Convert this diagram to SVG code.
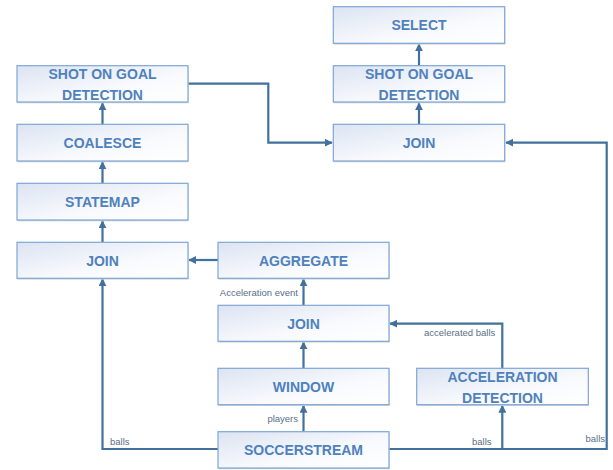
<svg xmlns="http://www.w3.org/2000/svg" width="613" height="470" viewBox="0 0 613 470">
<style>
.box{fill:url(#g);stroke:#7ea6d5;stroke-width:1.2}
.sh{fill:#cfd3d8}
.t{font-family:"Liberation Sans",Arial,sans-serif;font-weight:bold;font-size:14px;fill:#4f81bd;text-anchor:middle}
.l{font-family:"Liberation Sans",Arial,sans-serif;font-size:9.5px;fill:#5a6e87}
.c{fill:none;stroke:#41719c;stroke-width:2.2;marker-end:url(#a)}
.n{fill:none;stroke:#41719c;stroke-width:2.2}
</style>
<defs>
<linearGradient id="g" x1="0" y1="0" x2="1" y2="1">
<stop offset="0" stop-color="#dce4f2"/>
<stop offset="0.6" stop-color="#f8fafd"/>
<stop offset="1" stop-color="#ffffff"/>
</linearGradient>
<marker id="a" viewBox="0 0 10 10" refX="9" refY="5" markerWidth="8" markerHeight="8" markerUnits="userSpaceOnUse" orient="auto">
<path d="M0,0 L10,5 L0,10 z" fill="#41719c"/>
</marker>
</defs>
<rect width="613" height="470" fill="#ffffff"/>

<g id="connectors">
<polyline class="c" points="188,83.7 268.3,83.7 268.3,142.7 332,142.7"/>
<polyline class="c" points="389,449 606.7,449 606.7,142.7 506,142.7"/>
<line class="c" x1="502.3" y1="449" x2="502.3" y2="405.5"/>
<polyline class="c" points="502.3,368.3 502.3,323.7 390,323.7"/>
<polyline class="c" points="218,449 102.5,449 102.5,279"/>
<line class="c" x1="218" y1="260" x2="189" y2="260"/>
<line class="c" x1="102.5" y1="242.3" x2="102.5" y2="221"/>
<line class="c" x1="102.5" y1="183.3" x2="102.5" y2="162"/>
<line class="c" x1="102.5" y1="124.3" x2="102.5" y2="103"/>
<line class="c" x1="419" y1="124.3" x2="419" y2="103"/>
<line class="c" x1="419" y1="65.7" x2="419" y2="44"/>
<line class="c" x1="303.5" y1="431.7" x2="303.5" y2="405.5"/>
<line class="c" x1="303.5" y1="368.3" x2="303.5" y2="342"/>
<line class="c" x1="303.5" y1="305.3" x2="303.5" y2="279"/>
<text class="l" x="110" y="445">balls</text>
<text class="l" x="472" y="445">balls</text>
<text class="l" x="585.5" y="441.5">balls</text>
<text class="l" x="424" y="335.5">accelerated balls</text>
<text class="l" x="298" y="295.5" text-anchor="end">Acceleration event</text>
<text class="l" x="298" y="422" text-anchor="end">players</text>
</g>

<g id="sog-left">
<rect class="sh" x="17.5" y="67" width="171" height="36.3"/>
<rect class="box" x="17" y="65.7" width="171" height="36.3"/>
<text class="t" x="102.5" y="79.3">SHOT ON GOAL</text>
<text class="t" x="102.5" y="100">DETECTION</text>
</g>
<g id="coalesce">
<rect class="sh" x="17.5" y="125.6" width="171" height="36.7"/>
<rect class="box" x="17" y="124.3" width="171" height="36.7"/>
<text class="t" x="102.5" y="148.3">COALESCE</text>
</g>
<g id="statemap">
<rect class="sh" x="17.5" y="184.6" width="171" height="36.7"/>
<rect class="box" x="17" y="183.3" width="171" height="36.7"/>
<text class="t" x="102.5" y="207.3">STATEMAP</text>
</g>
<g id="join-left">
<rect class="sh" x="17.5" y="243.6" width="171" height="36"/>
<rect class="box" x="17" y="242.3" width="171" height="36"/>
<text class="t" x="102.5" y="265.8">JOIN</text>
</g>
<g id="select">
<rect class="sh" x="333.8" y="8" width="171.4" height="36.6"/>
<rect class="box" x="333.3" y="6.7" width="171.4" height="36.6"/>
<text class="t" x="419" y="30.3">SELECT</text>
</g>
<g id="sog-right">
<rect class="sh" x="333.8" y="67" width="171.4" height="36.3"/>
<rect class="box" x="333.3" y="65.7" width="171.4" height="36.3"/>
<text class="t" x="419" y="79.3">SHOT ON GOAL</text>
<text class="t" x="419" y="100">DETECTION</text>
</g>
<g id="join-right">
<rect class="sh" x="333.8" y="125.6" width="171.4" height="36.7"/>
<rect class="box" x="333.3" y="124.3" width="171.4" height="36.7"/>
<text class="t" x="419" y="148.3">JOIN</text>
</g>
<g id="aggregate">
<rect class="sh" x="218.5" y="243.6" width="171" height="36"/>
<rect class="box" x="218" y="242.3" width="171" height="36"/>
<text class="t" x="303.5" y="265.8">AGGREGATE</text>
</g>
<g id="join-mid">
<rect class="sh" x="218.5" y="306.6" width="171" height="36"/>
<rect class="box" x="218" y="305.3" width="171" height="36"/>
<text class="t" x="303.5" y="328.8">JOIN</text>
</g>
<g id="window">
<rect class="sh" x="218.5" y="369.6" width="171" height="36.4"/>
<rect class="box" x="218" y="368.3" width="171" height="36.4"/>
<text class="t" x="303.5" y="391.8">WINDOW</text>
</g>
<g id="soccerstream">
<rect class="sh" x="218.5" y="433" width="171" height="36.3"/>
<rect class="box" x="218" y="431.7" width="171" height="36.3"/>
<text class="t" x="303.5" y="455">SOCCERSTREAM</text>
</g>
<g id="accel">
<rect class="sh" x="417.2" y="369.6" width="171.6" height="36.4"/>
<rect class="box" x="416.7" y="368.3" width="171.6" height="36.4"/>
<text class="t" x="502.5" y="381.7">ACCELERATION</text>
<text class="t" x="502.5" y="402.7">DETECTION</text>
</g>
</svg>
